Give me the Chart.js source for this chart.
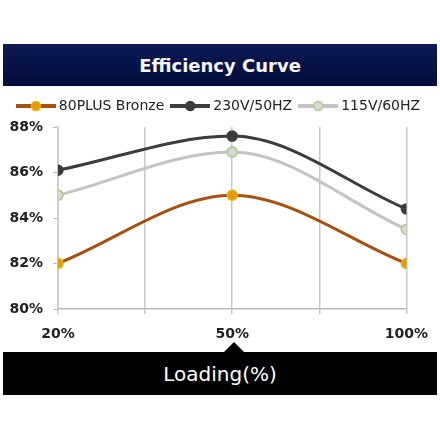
<!DOCTYPE html>
<html lang="en">
<head>
    <meta charset="UTF-8">
    <title>Efficiency Curve</title>
    <script src="https://cdn.jsdelivr.net/npm/chart.js"></script>
    <style>
        body { margin: 0; background: #fff; font-family: "DejaVu Sans", sans-serif; }
        .wrap { position: relative; width: 440px; height: 440px; }
        .titulo {
            position: absolute; left: 3px; top: 44px; width: 434px; height: 42px;
            background: linear-gradient(#0c1a55, #020d3a);
            color: #f4f4f4; font-size: 18px; font-weight: bold;
            display: flex; align-items: center; justify-content: center;
        }
        .grafico { position: absolute; left: 0; top: 86px; width: 440px; height: 266px; }
        .rodape {
            position: absolute; left: 3px; top: 352px; width: 434px; height: 43px;
            background: #000; color: #fff; font-size: 20px;
            display: flex; align-items: center; justify-content: center;
        }
        .seta {
            position: absolute; left: 224px; top: 342px; width: 0; height: 0;
            border-left: 10px solid transparent; border-right: 10px solid transparent;
            border-bottom: 10px solid #000;
        }
    </style>
</head>
<body>
<div class="wrap">
    <div class="titulo">Efficiency Curve</div>
    <div class="grafico"><canvas id="curva" width="440" height="266"></canvas></div>
    <div class="seta"></div>
    <div class="rodape">Loading(%)</div>
</div>

<script>
    const loads = ['20%', '50%', '100%'];
    const seriesNames = ['80PLUS Bronze', '230V/50HZ', '115V/60HZ'];
    const bronze = [82, 85, 82];
    const v230 = [86.1, 87.6, 84.4];
    const v115 = [85.0, 86.9, 83.5];
    const yTicks = [80, 82, 84, 86, 88];

    // icone da legenda: linha com bolinha
    function icone(linha, preenche, borda) {
        const c = document.createElement('canvas');
        c.width = 40; c.height = 12;
        const g = c.getContext('2d');
        g.strokeStyle = linha; g.lineWidth = 4;
        g.beginPath(); g.moveTo(0, 6); g.lineTo(40, 6); g.stroke();
        g.fillStyle = preenche; g.strokeStyle = borda; g.lineWidth = 1.5;
        g.beginPath(); g.arc(20, 6, 4.5, 0, Math.PI * 2); g.fill(); g.stroke();
        return c;
    }

    const estilos = [
        { linha: '#a8500f', ponto: '#e59a10', borda: '#f0b000' },
        { linha: '#3c3c3c', ponto: '#3c3c3c', borda: '#3c3c3c' },
        { linha: '#c4c4c4', ponto: '#d8d8d8', borda: '#a6cc7a' }
    ];
    const icones = estilos.map(e => icone(e.linha, e.ponto, e.borda));

    const valores = [bronze, v230, v115];
    const datasets = valores.map((serie, k) => ({
        label: seriesNames[k],
        data: serie.map((v, i) => ({ x: i, y: v })),
        borderColor: estilos[k].linha,
        backgroundColor: estilos[k].ponto,
        pointBackgroundColor: estilos[k].ponto,
        pointBorderColor: estilos[k].borda,
        pointBorderWidth: 1.5,
        pointRadius: 5,
        borderWidth: 3,
        cubicInterpolationMode: 'monotone',
        fill: false
    })).reverse();

    // mais espaco embaixo da legenda
    const espacoLegenda = {
        id: 'espacoLegenda',
        beforeLayout(chart) {
            const leg = chart.legend;
            if (leg && !leg._ajustado) {
                const fitOriginal = leg.fit.bind(leg);
                leg.fit = function () { fitOriginal(); this.height += 4; };
                leg._ajustado = true;
            }
        }
    };

    new Chart(document.getElementById('curva'), {
        type: 'line',
        data: { datasets: datasets },
        plugins: [espacoLegenda],
        options: {
            responsive: false,
            animation: false,
            layout: { padding: { top: 3, right: 0, bottom: 0, left: 0 } },
            plugins: {
                tooltip: { enabled: false },
                legend: {
                    reverse: true,
                    labels: {
                        usePointStyle: true,
                        pointStyleWidth: 32,
                        padding: 10,
                        color: '#222',
                        font: { family: 'DejaVu Sans', size: 14 },
                        generateLabels: chart => Chart.defaults.plugins.legend.labels.generateLabels(chart)
                            .map(l => ({ ...l, pointStyle: icones[seriesNames.indexOf(l.text)] }))
                    }
                }
            },
            scales: {
                x: {
                    type: 'linear', min: 0, max: loads.length - 1,
                    afterFit: s => { s.height = 43; },
                    ticks: {
                        stepSize: 0.5,
                        autoSkip: false,
                        maxRotation: 0,
                        padding: 12,
                        color: '#222',
                        font: { family: 'DejaVu Sans', size: 14, weight: 'bold' },
                        callback: v => Number.isInteger(v) ? loads[v] : ''
                    },
                    grid: { color: '#c8c8c8', tickLength: 5, lineWidth: 1.5 },
                    border: { color: '#b8b8b8', width: 1.5 }
                },
                y: {
                    min: yTicks[0], max: yTicks[yTicks.length - 1],
                    afterFit: s => { s.width = 58; },
                    ticks: {
                        stepSize: 2,
                        padding: 10,
                        color: '#222',
                        font: { family: 'DejaVu Sans', size: 14, weight: 'bold' },
                        callback: v => v + '%'
                    },
                    grid: { drawOnChartArea: false, color: '#b8b8b8', tickLength: 5 },
                    border: { color: '#c8c8c8', width: 1.5 }
                },
                // eixo vazio a direita, so para deixar a margem
                y2: {
                    position: 'right',
                    afterFit: s => { s.width = 31; },
                    ticks: { display: false },
                    grid: { display: false },
                    border: { display: false }
                }
            }
        }
    });
</script>
</body>
</html>
